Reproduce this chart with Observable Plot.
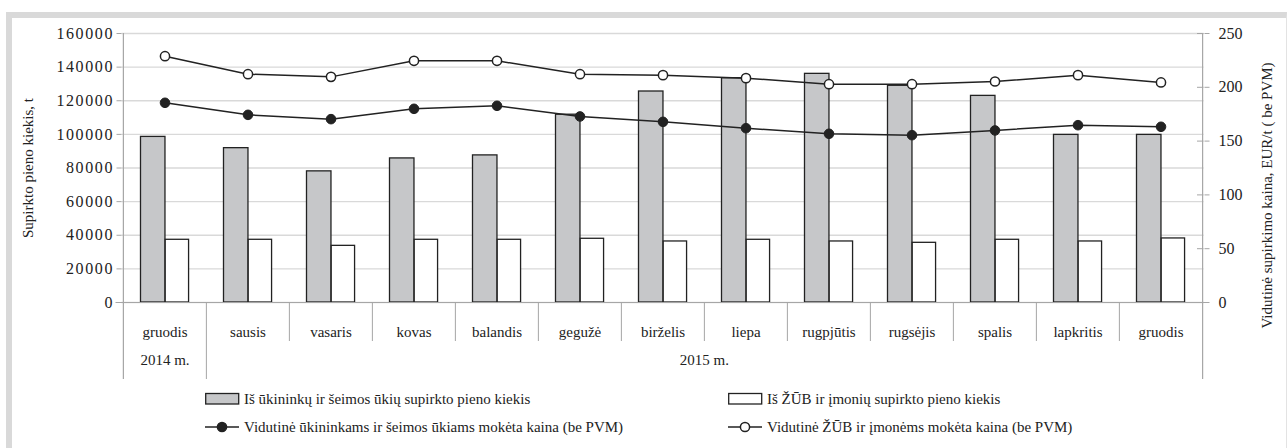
<!DOCTYPE html>
<html>
<head>
<meta charset="utf-8">
<script src="https://cdn.jsdelivr.net/npm/d3@7"></script>
<script src="https://cdn.jsdelivr.net/npm/@observablehq/plot@0.6"></script>
<style>
  html, body { margin: 0; padding: 0; background: #fff; }
  body { width: 1287px; height: 448px; position: relative; overflow: hidden; font-family: 'Liberation Serif', 'Times New Roman', serif; color: #222; }
  #chart { position: absolute; left: 0; top: 0; }
  #frame { position: absolute; left: 6px; top: 12px; width: 1274px; height: 440px; border-left: 6px solid #d9d9d9; border-top: 6px solid #d9d9d9; border-right: 1px solid #e3e3e3; pointer-events: none; z-index: 2; }
  .lg { position: absolute; font-family: 'Liberation Serif', 'Times New Roman', serif; font-size: 15px; line-height: 18px; white-space: nowrap; display: flex; align-items: center; }
  .lg svg { display: block; margin-right: 4px; }
</style>
</head>
<body>
<div id="chart"></div>
<div id="frame"></div>
<div id="legend"></div>
<script>
const ids = ["2014-12","2015-01","2015-02","2015-03","2015-04","2015-05","2015-06","2015-07","2015-08","2015-09","2015-10","2015-11","2015-12"];
const months = ["gruodis","sausis","vasaris","kovas","balandis","gegužė","birželis","liepa","rugpjūtis","rugsėjis","spalis","lapkritis","gruodis"];
const farmQty = [98500, 91800, 78000, 85700, 87500, 111700, 125500, 133400, 136000, 128900, 122900, 99700, 99700];
const coopQty = [37300, 37300, 33700, 37300, 37300, 37900, 36300, 37300, 36300, 35500, 37300, 36300, 38100];
const farmPrice = [185.6, 174.4, 170.4, 180.0, 182.8, 172.9, 167.9, 162.0, 156.8, 155.5, 159.9, 164.8, 163.3];
const coopPrice = [228.9, 212.2, 209.7, 224.6, 224.6, 212.2, 211.3, 208.5, 202.9, 202.9, 205.4, 211.3, 204.5];
const leftTicks = [0, 20000, 40000, 60000, 80000, 100000, 120000, 140000, 160000];
const rightTicks = [0, 50, 100, 150, 200, 250];
const seriesNames = ["Iš ūkininkų ir šeimos ūkių supirkto pieno kiekis", "Iš ŽŪB ir įmonių supirkto pieno kiekis", "Vidutinė ūkininkams ir šeimos ūkiams mokėta kaina (be PVM)", "Vidutinė ŽŪB ir įmonėms mokėta kaina (be PVM)"];
const yearLabels = ["2014 m.", "2015 m."];
const leftTitle = "Supirkto pieno kiekis, t";
const rightTitle = "Vidutinė supirkimo kaina, EUR/t ( be PVM)";

const data = ids.map((id, i) => ({id, month: months[i], farmQty: farmQty[i], coopQty: coopQty[i], farmPrice: farmPrice[i], coopPrice: coopPrice[i]}));

const W = 1287, H = 385;
const mL = 121.5, mR = 83.5, mT = 33, mB = H - 302;
const bw = (W - mL - mR) / ids.length;
const plotH = H - mT - mB;
const ratio = 160000 / 250;
const dark = "#222", axisGray = "#a6a6a6";
const serif = "'Liberation Serif', 'Times New Roman', serif";

const chart = Plot.plot({
  width: W, height: H,
  marginLeft: mL, marginRight: mR, marginTop: mT, marginBottom: mB,
  style: {fontFamily: serif, fontSize: "15px", color: "#222", background: "transparent"},
  x: {type: "band", domain: ids, padding: 0, axis: null},
  y: {domain: [0, 160000]},
  marks: [
    Plot.ruleY(leftTicks, {stroke: "#d9d9d9", strokeWidth: 1.3}),
    Plot.barY(data, {x: "id", y: "farmQty", fill: "#c6c7c9", stroke: dark, strokeWidth: 1.3, insetLeft: 17.5, insetRight: bw - 42.2}),
    Plot.barY(data, {x: "id", y: "coopQty", fill: "#fff", stroke: dark, strokeWidth: 1.3, insetLeft: 42.2, insetRight: bw - 65.8}),
    Plot.ruleY([0], {stroke: axisGray, strokeWidth: 1.2, insetLeft: -6, insetRight: -5}),
    Plot.ruleX(ids.slice(2), {x: d => d, dx: -bw / 2, stroke: axisGray, insetTop: plotH, insetBottom: -39}),
    Plot.ruleX([ids[1]], {x: d => d, dx: -bw / 2, stroke: axisGray, insetTop: plotH, insetBottom: -77}),
    Plot.ruleX([ids[0]], {x: d => d, dx: -bw / 2, stroke: axisGray, strokeWidth: 1.2, insetBottom: -77}),
    Plot.ruleX([ids[ids.length - 1]], {x: d => d, dx: bw / 2, stroke: axisGray, strokeWidth: 1.2, insetBottom: -77}),
    Plot.axisY(leftTicks, {anchor: "left", tickSize: 5, tickPadding: 3, stroke: axisGray, label: null, fontSize: 16, tickFormat: d => String(d)}),
    Plot.axisY(rightTicks.map(v => v * ratio), {anchor: "right", tickSize: 5, tickPadding: 9.5, stroke: axisGray, label: null, fontSize: 16, tickFormat: d => String(Math.round(d / ratio))}),
    Plot.ruleY(rightTicks.map(v => v * ratio), {stroke: axisGray, insetLeft: W - mL - mR - 6.5}),
    Plot.line(data, {x: "id", y: d => d.farmPrice * ratio, stroke: dark, strokeWidth: 1.5}),
    Plot.line(data, {x: "id", y: d => d.coopPrice * ratio, stroke: dark, strokeWidth: 1.5}),
    Plot.dot(data, {x: "id", y: d => d.farmPrice * ratio, r: 4.8, fill: dark, stroke: dark, strokeWidth: 1}),
    Plot.dot(data, {x: "id", y: d => d.coopPrice * ratio, r: 4.6, fill: "#fff", stroke: dark, strokeWidth: 1.5}),
    Plot.text(data, {x: "id", text: "month", frameAnchor: "bottom", dy: 34, fill: "#222"}),
    Plot.text([yearLabels[0]], {x: () => ids[0], text: d => d, frameAnchor: "bottom", dy: 62, fill: "#222"}),
    Plot.text([yearLabels[1]], {x: () => ids[7], text: d => d, frameAnchor: "bottom", dy: 62, dx: -bw / 2, fill: "#222"}),
    Plot.text([leftTitle], {text: d => d, frameAnchor: "left", textAnchor: "middle", dx: 28 - mL, rotate: -90, fill: "#222"}),
    Plot.text([rightTitle], {text: d => d, frameAnchor: "right", textAnchor: "middle", dx: 1267 - (W - mR), dy: 195 - (mT + plotH / 2), rotate: -90, fill: "#222"})
  ]
});
d3.select(chart).selectAll('g[aria-label="y-axis tick label"]').filter((d, i) => i === 0).style("letter-spacing", "1.6px");
document.getElementById("chart").appendChild(chart);

const legend = document.getElementById("legend");
const items = [
  {left: 205, top: 399, kind: "bar", fill: "#c6c7c9", label: seriesNames[0]},
  {left: 728, top: 399, kind: "bar", fill: "#fff", label: seriesNames[1]},
  {left: 205, top: 427, kind: "line", fill: dark, label: seriesNames[2]},
  {left: 728, top: 427, kind: "line", fill: "#fff", label: seriesNames[3]}
];
for (const it of items) {
  const div = document.createElement("div");
  div.className = "lg";
  div.style.left = it.left + "px";
  div.style.top = (it.top - 9) + "px";
  let sw;
  if (it.kind === "bar") {
    sw = `<svg width="35" height="14"><rect x="0.7" y="1.5" width="33" height="10.5" fill="${it.fill}" stroke="${dark}" stroke-width="1.3"/></svg>`;
  } else {
    sw = `<svg width="35" height="14"><line x1="0" x2="34" y1="7" y2="7" stroke="${dark}" stroke-width="1.5"/><circle cx="17" cy="7" r="4.6" fill="${it.fill}" stroke="${dark}" stroke-width="1.5"/></svg>`;
  }
  div.innerHTML = sw + `<span>${it.label}</span>`;
  legend.appendChild(div);
}
</script>
</body>
</html>
